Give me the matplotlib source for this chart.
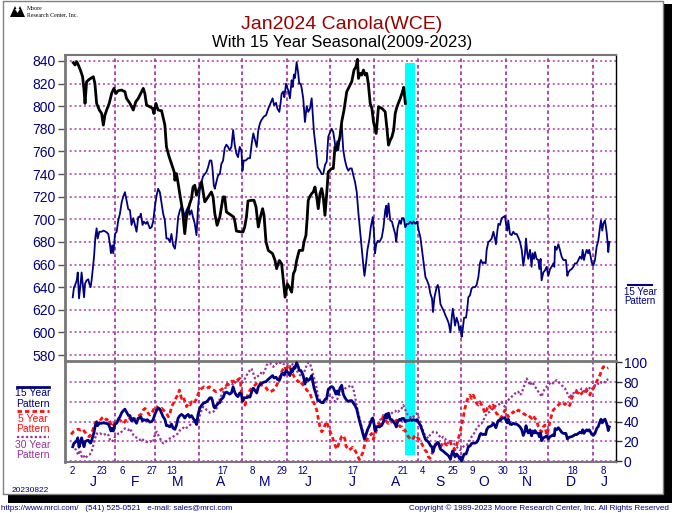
import datetime as dt
import matplotlib
matplotlib.use("Agg")
import matplotlib.pyplot as plt
from matplotlib.lines import Line2D
from matplotlib.patches import Rectangle, Polygon
from matplotlib.transforms import blended_transform_factory

plt.rcParams['font.family'] = ['Liberation Sans', 'DejaVu Sans']

# ---------------- data (x = days since 2023-01-01) ----------------
PRICE_DAYS = [1.9, 3.1, 4.3, 5.4, 7.0, 8.4, 9.4, 10.1, 11.2, 13.1, 15.9, 17.0, 18.2, 20.1, 21.7, 22.9, 24.0, 25.2,
              27.0, 28.7, 30.3, 31.7, 33.3, 35.6, 38.0, 39.1, 41.5, 43.8, 45.6, 47.3, 49.6, 50.8, 51.9, 53.1, 55.4,
              57.3, 58.2, 59.6, 61.2, 63.6, 65.9, 67.0, 68.9, 70.5, 72.4, 72.9, 74.0, 75.2, 76.3, 78.2, 79.8, 81.0,
              82.2, 83.3, 84.5, 85.6, 86.8, 88.0, 90.3, 91.5, 93.8, 96.1, 98.4, 99.6, 100.8, 102.4, 104.3, 106.6,
              107.7, 108.9, 112.4, 114.0, 114.7, 115.9, 119.4, 120.5, 121.7, 122.9, 124.0, 126.3, 128.2, 129.6,
              131.2, 132.4, 134.2, 135.2, 136.6, 138.2, 141.2, 142.9, 144.0, 145.9, 147.5, 148.7, 149.9, 151.5,
              152.9, 154.5, 155.7, 156.8, 158.0, 159.8, 162.2, 163.1, 164.5, 165.4, 166.1, 167.3, 168.5, 169.6,
              170.8, 172.0, 173.1, 174.3, 175.5, 176.6, 177.8, 179.0, 180.1, 182.5, 183.6, 184.8, 186.0, 187.1,
              188.3, 189.5, 191.1, 193.0, 195.3, 196.5, 198.1, 199.5, 200.5, 201.2, 202.3, 203.5, 204.7, 205.9,
              207.0, 208.2, 209.4, 210.6, 211.7, 213.6, 215.2, 217.6, 219.9, 221.1, 222.2, 223.4, 224.6, 225.8,
              226.9, 228.1, 230.4, 231.6, 232.8, 234.0]
PRICE = [838.5, 836.5, 839.4, 836.5, 831.4, 826.1, 814.3, 802.5, 821.7, 823.8, 826.1, 820.2, 802.5, 796.6, 793.6,
         783.3, 792.1, 796.6, 802.5, 811.3, 815.8, 811.3, 813.7, 814.3, 812.8, 806.9, 802.5, 796.6, 804.0, 806.9,
         812.8, 815.8, 811.3, 801.0, 799.5, 798.1, 793.6, 802.5, 796.6, 796.0, 783.3, 764.1, 755.2, 749.3, 741.9,
         734.5, 740.4, 731.6, 722.7, 708.0, 687.3, 702.0, 708.0, 713.9, 718.3, 728.6, 730.1, 721.3, 728.6, 733.1,
         715.4, 719.8, 724.2, 719.8, 705.0, 694.7, 702.0, 719.8, 719.8, 706.5, 703.5, 702.0, 699.1, 689.6, 688.8,
         688.8, 693.2, 702.0, 716.2, 716.8, 716.8, 710.9, 693.2, 700.6, 709.4, 703.5, 679.9, 672.5, 669.6, 663.6,
         656.3, 663.6, 660.7, 645.9, 631.1, 642.9, 640.0, 635.6, 651.8, 654.8, 663.6, 672.5, 672.5, 679.9, 685.8,
         702.0, 716.8, 720.4, 722.7, 724.2, 728.6, 719.8, 709.4, 722.7, 727.2, 719.8, 703.5, 722.7, 741.9, 744.9,
         744.9, 764.1, 761.1, 767.0, 772.9, 786.2, 796.6, 812.8, 818.7, 821.7, 832.0, 835.0, 841.5, 824.6, 829.1,
         827.6, 832.0, 827.6, 829.1, 818.7, 802.5, 798.1, 786.2, 775.9, 799.5, 798.1, 795.1, 780.3, 765.6, 770.0,
         772.9, 778.9, 793.6, 799.5, 806.9, 811.3, 816.7, 802.5]

P15_DAYS = [1.5, 2.4, 3.1, 4.3, 5.0, 5.9, 7.0, 7.7, 8.9, 9.4, 10.1, 11.2, 12.4, 13.1, 14.0, 14.7, 15.4, 16.4, 17.3,
            18.2, 18.9, 20.1, 21.7, 22.9, 24.7, 26.4, 27.5, 28.2, 29.1, 29.8, 30.5, 31.0, 32.2, 33.3, 34.5, 35.7,
            36.8, 38.0, 39.1, 40.3, 41.5, 42.6, 43.8, 45.0, 46.1, 47.3, 48.4, 49.1, 50.3, 51.2, 52.6, 53.6, 54.5,
            55.4, 56.6, 57.7, 58.9, 60.1, 61.2, 62.4, 63.6, 64.7, 65.9, 67.0, 68.2, 69.4, 70.5, 71.7, 72.9, 74.0,
            75.2, 76.4, 77.5, 78.7, 79.8, 81.0, 82.2, 83.3, 84.5, 85.7, 86.8, 88.0, 89.1, 90.3, 91.5, 92.6, 93.8,
            95.0, 96.1, 97.3, 98.4, 99.1, 100.1, 100.8, 101.9, 103.1, 104.3, 105.4, 106.6, 107.7, 108.9, 110.1,
            111.2, 112.4, 113.6, 114.7, 115.9, 117.0, 118.2, 119.4, 120.1, 121.0, 122.4, 124.0, 125.4, 126.6,
            127.7, 128.9, 130.1, 131.2, 132.4, 133.5, 135.2, 136.6, 138.2, 139.9, 141.2, 142.2, 143.6, 144.5,
            145.9, 146.8, 147.5, 148.7, 149.4, 150.6, 151.5, 152.2, 153.3, 154.5, 155.2, 156.1, 156.8, 158.0,
            159.1, 159.8, 160.8, 161.5, 162.6, 163.8, 165.0, 166.1, 167.3, 168.5, 169.2, 170.1, 171.3, 172.7,
            174.3, 175.5, 176.6, 177.8, 179.0, 180.1, 181.3, 182.5, 183.6, 184.8, 185.5, 186.4, 187.1, 188.3,
            189.5, 190.6, 191.8, 193.0, 194.1, 195.3, 196.5, 197.6, 198.8, 200.0, 201.2, 202.3, 203.5, 204.7,
            205.4, 206.5, 207.5, 208.9, 209.8, 211.2, 212.1, 212.8, 213.6, 214.7, 215.9, 217.5, 218.7, 219.9,
            220.6, 221.1, 222.2, 223.4, 224.6, 225.8, 226.9, 227.6, 228.5, 229.9, 230.9, 231.6, 232.8, 233.9,
            235.1, 236.3, 237.4, 238.6, 239.8, 240.9, 242.1, 243.3, 244.5, 245.6, 246.8, 248.0, 249.1, 250.3,
            251.5, 252.6, 253.3, 254.3, 255.7, 256.6, 257.3, 258.5, 259.6, 260.8, 262.0, 263.1, 264.3, 265.5,
            266.4, 267.1, 268.0, 268.7, 269.8, 271.0, 271.7, 272.6, 273.3, 274.0, 275.0, 276.4, 277.3, 278.0,
            279.2, 280.3, 281.5, 282.7, 283.8, 285.0, 286.1, 286.8, 288.0, 288.9, 290.1, 290.8, 292.0, 293.1,
            294.3, 295.5, 296.6, 297.3, 298.3, 299.0, 300.1, 301.3, 302.5, 303.6, 304.3, 305.2, 305.9, 307.1,
            308.3, 309.4, 310.6, 311.8, 312.9, 314.1, 315.3, 316.4, 317.6, 318.3, 319.2, 319.9, 321.1, 322.2,
            322.9, 323.9, 324.6, 325.7, 326.9, 327.6, 328.5, 329.2, 330.4, 331.6, 332.7, 333.9, 335.1, 336.2,
            337.4, 338.1, 338.6, 339.7, 340.9, 342.0, 343.2, 344.4, 346.2, 347.2, 347.9, 349.0, 350.2, 351.4,
            352.5, 353.7, 354.9, 356.0, 357.2, 357.9, 358.8, 359.5, 360.7, 361.8, 362.5, 363.5, 364.2, 365.3,
            366.5, 367.7, 368.8, 370.0, 370.7, 371.6, 372.3, 373.5, 374.6, 375.3, 375.8, 376.5]
P15_PRICE = [631, 640, 641.5, 646, 653, 630, 643, 653, 637, 631, 643, 646, 647, 643, 640, 646, 655, 667, 684, 692,
             683, 689, 689, 690, 689, 687, 678, 670, 677, 670, 678, 687, 689, 699, 705, 715, 720, 724, 717, 709, 708,
             695, 701, 695, 689, 702, 702, 705, 695, 698, 696, 698, 695, 692, 693, 698, 711, 721, 727, 724, 714, 705,
             699, 683, 683, 680, 687, 677, 674, 684, 702, 708, 711, 708, 702, 708, 711, 704, 708, 701, 696, 686, 711,
             726, 733, 738, 740, 742, 746, 752, 752, 746, 730, 727, 733, 739, 740, 749, 752, 763, 766, 764, 761, 764,
             779, 766, 758, 755, 764, 761, 743, 752, 752, 754, 754, 767, 776, 770, 764, 779, 785, 788, 791, 792, 798,
             803, 807, 801, 803, 798, 795, 803, 811, 813, 808, 820, 816, 814, 807, 823, 817, 828, 825, 839, 829, 820,
             820, 816, 807, 786, 800, 795, 798, 807, 794, 777, 764, 746, 743, 740, 740, 748, 751, 773, 777, 780, 777,
             767, 761, 769, 761, 776, 783, 761, 752, 746, 743, 745, 745, 739, 733, 724, 705, 690, 673, 658, 650, 661,
             673, 683, 693, 702, 687, 670, 678, 681, 680, 684, 693, 708, 712, 702, 714, 699, 698, 692, 687, 680, 692,
             699, 696, 701, 701, 693, 696, 696, 698, 696, 698, 696, 698, 690, 684, 673, 661, 649, 646, 642, 634, 630,
             618, 631, 639, 642, 639, 625, 622, 619, 615, 612, 608, 600, 613, 621, 613, 606, 613, 608, 602, 605, 596,
             602, 613, 613, 622, 631, 633, 639, 640, 640, 642, 649, 661, 664, 661, 662, 661, 673, 680, 681, 683, 689,
             683, 678, 690, 696, 695, 701, 702, 703, 696, 690, 699, 687, 686, 689, 687, 687, 684, 680, 673, 659, 670,
             683, 670, 665, 673, 658, 670, 665, 671, 665, 664, 656, 665, 646, 653, 655, 658, 650, 656, 658, 661, 658,
             676, 673, 678, 673, 667, 664, 664, 650, 653, 655, 656, 658, 661, 661, 664, 667, 665, 673, 664, 668, 673,
             670, 673, 667, 662, 659, 664, 676, 681, 693, 699, 690, 696, 699, 689, 680, 671, 680]

P5_DAYS = [0.3, 1.9, 3.8, 5.4, 7.1, 8.5, 10.1, 11.7, 13.1, 14.7, 15.9, 17.1, 18.2, 20.1, 21.7, 22.9, 24.1, 25.2, 26.4,
           27.6, 28.7, 29.9, 31.0, 32.2, 33.4, 34.5, 35.7, 36.9, 38.0, 39.2, 40.4, 41.5, 42.7, 43.9, 45.0, 46.2, 48.5,
           49.7, 50.8, 52.0, 53.2, 54.3, 55.5, 56.7, 57.8, 59.0, 60.2, 61.3, 62.5, 63.7, 64.8, 66.0, 67.2, 68.3, 69.5,
           70.6, 71.8, 73.0, 74.1, 75.3, 76.0, 76.9, 77.6, 78.8, 80.0, 81.1, 82.3, 83.5, 84.6, 85.8, 86.9, 88.1, 89.3,
           90.4, 91.6, 93.2, 95.1, 97.0, 98.6, 100.2, 101.6, 103.3, 104.9, 106.3, 107.9, 109.1, 110.2, 111.4, 112.6,
           113.7, 114.9, 116.1, 117.2, 118.4, 119.6, 120.7, 121.9, 123.1, 124.2, 125.4, 126.5, 127.7, 128.9, 130.0,
           131.2, 132.4, 133.5, 134.7, 135.9, 137.0, 138.2, 139.4, 140.5, 141.7, 142.9, 144.0, 145.2, 146.3, 147.5,
           148.7, 149.8, 151.0, 152.2, 153.3, 154.5, 155.7, 156.8, 158.0, 159.2, 160.3, 161.5, 162.6, 163.8, 165.0,
           166.1, 167.3, 168.5, 169.6, 170.8, 172.0, 173.1, 174.3, 175.5, 176.6, 177.8, 179.0, 180.1, 181.3, 182.5,
           183.6, 184.8, 186.0, 187.1, 188.3, 189.5, 190.6, 191.8, 192.5, 194.6, 197.2, 199.5, 201.8, 204.1, 205.8,
           208.1, 210.4, 211.6, 212.7, 213.9, 215.1, 216.2, 217.4, 218.6, 219.7, 220.9, 222.0, 223.2, 224.4, 225.5,
           226.7, 227.9, 229.0, 230.2, 231.4, 232.5, 233.7, 234.9, 236.0, 237.2, 238.4, 239.5, 240.7, 241.8, 243.0,
           244.2, 245.3, 246.5, 247.7, 248.8, 250.0, 251.2, 252.3, 253.5, 254.7, 255.8, 257.0, 258.2, 259.3, 260.5,
           261.7, 262.8, 264.0, 265.1, 266.3, 267.5, 268.6, 269.8, 271.0, 272.1, 273.3, 274.5, 275.6, 276.8, 278.0,
           279.1, 280.3, 281.4, 282.6, 283.8, 284.9, 286.1, 287.3, 288.4, 289.6, 290.8, 291.9, 293.1, 294.3, 295.4,
           296.6, 297.7, 298.9, 300.1, 301.2, 302.4, 303.6, 304.7, 305.9, 307.1, 308.2, 309.4, 310.6, 311.7, 312.9,
           314.0, 315.2, 316.4, 317.5, 318.7, 319.9, 321.0, 322.2, 323.4, 324.5, 325.7, 326.9, 328.0, 329.2, 330.4,
           331.5, 332.7, 333.8, 335.0, 336.2, 337.3, 338.5, 339.7, 340.8, 342.0, 343.2, 344.3, 345.5, 346.7, 347.8,
           349.0, 350.1, 351.3, 352.5, 353.6, 354.8, 356.0, 357.1, 358.3, 359.5, 360.6, 361.8, 363.0, 364.1, 365.3,
           366.5, 367.6, 368.8, 370.0, 371.1, 372.3, 373.5, 374.6, 375.8]
P5 = [27.0, 29.7, 31.4, 32.4, 31.4, 32.4, 29.1, 26.3, 24.7, 28.0, 33.1, 38.2, 39.9, 39.9, 43.2, 44.9, 43.2, 41.5, 43.2,
      39.9, 34.8, 36.5, 38.2, 39.9, 41.5, 41.5, 39.9, 38.2, 39.9, 43.2, 44.9, 43.2, 39.9, 41.5, 43.2, 44.9, 46.6, 48.3,
      51.7, 53.4, 51.7, 48.3, 46.6, 48.3, 51.7, 55.1, 55.1, 53.4, 51.7, 53.4, 51.7, 50.0, 48.3, 44.9, 48.3, 55.1, 58.4,
      61.8, 65.2, 66.9, 72.0, 66.9, 63.5, 65.2, 60.1, 55.1, 58.4, 56.8, 60.1, 58.4, 60.1, 63.5, 68.6, 72.0, 73.6, 75.3,
      73.6, 75.3, 73.6, 72.0, 70.3, 70.9, 72.0, 73.6, 75.3, 77.0, 79.7, 80.4, 81.1, 80.4, 82.1, 81.1, 83.1, 83.8, 68.6,
      63.5, 56.8, 63.5, 68.6, 72.0, 73.6, 75.3, 77.0, 78.7, 80.4, 78.7, 77.0, 76.3, 75.3, 73.6, 70.9, 70.3, 70.9, 72.0,
      73.6, 77.0, 80.4, 85.5, 90.5, 93.9, 92.2, 93.9, 97.3, 94.6, 90.5, 87.2, 83.8, 82.1, 80.4, 82.1, 78.7, 77.0, 75.3,
      72.0, 70.3, 68.6, 63.5, 60.1, 56.8, 51.7, 43.2, 34.8, 29.7, 31.4, 36.5, 39.9, 34.8, 30.0, 26.3, 21.3, 16.2, 12.0,
      16.0, 21.0, 25.0, 26.0, 22.0, 15.0, 11.0, 14.0, 9.0, 1.5, 8.0, 18.0, 24.0, 28.0, 22.0, 27.0, 31.4, 34.8, 38.2,
      41.5, 44.9, 43.2, 39.9, 38.2, 41.5, 39.9, 38.2, 39.9, 41.5, 38.2, 34.8, 34.8, 31.4, 31.4, 28.0, 24.7, 23.0, 21.3,
      23.0, 26.3, 24.7, 23.0, 21.3, 17.9, 14.5, 11.1, 9.5, 4.4, 2.7, 6.1, 11.1, 16.2, 19.6, 17.9, 12.8, 16.2, 19.6,
      17.9, 16.2, 17.9, 19.6, 16.2, 14.5, 11.1, 16.2, 23.0, 28.0, 36.5, 44.9, 53.4, 60.1, 65.2, 66.9, 63.5, 66.9, 63.5,
      58.4, 56.8, 60.0, 56.8, 53.4, 48.3, 51.7, 56.8, 55.1, 53.4, 56.8, 51.7, 48.3, 46.6, 43.2, 44.9, 48.3, 51.7, 48.3,
      44.9, 46.6, 48.3, 50.0, 48.3, 50.0, 51.7, 50.7, 50.0, 48.3, 47.3, 45.9, 46.6, 44.9, 43.2, 45.9, 43.2, 41.5, 34.8,
      31.4, 29.7, 34.8, 36.5, 26.3, 31.4, 39.9, 46.6, 51.7, 53.4, 55.1, 56.8, 58.4, 58.4, 56.8, 58.4, 56.8, 55.1, 56.8,
      63.5, 66.9, 68.6, 70.3, 68.6, 66.9, 68.6, 70.3, 68.6, 72.0, 70.3, 66.9, 72.0, 73.6, 77.0, 80.4, 83.8, 87.2, 92.2,
      95.6, 95.6, 93.9, 94.6]

P30_DAYS = [3.1, 4.3, 5.4, 6.6, 7.8, 8.9, 10.1, 11.2, 12.4, 13.6, 14.7, 15.9, 17.1, 18.2, 19.4, 20.6, 22.9, 25.2, 26.4,
            27.6, 28.7, 29.9, 31.0, 32.2, 33.4, 34.5, 36.9, 38.0, 39.2, 40.4, 41.5, 42.7, 43.9, 45.0, 46.2, 48.5, 49.7,
            50.8, 52.7, 54.3, 55.5, 56.7, 57.8, 59.0, 60.2, 61.3, 62.5, 63.7, 64.8, 66.0, 67.2, 68.3, 69.5, 70.6, 71.8,
            73.0, 74.1, 75.3, 76.5, 77.6, 78.8, 80.0, 81.1, 82.3, 83.5, 84.6, 85.8, 86.9, 88.1, 89.3, 90.4, 91.6, 92.8,
            95.0, 97.5, 99.8, 102.1, 104.4, 107.9, 110.2, 112.6, 113.7, 116.1, 118.4, 120.7, 123.1, 125.4, 126.5,
            127.7, 128.9, 130.0, 132.4, 133.5, 134.7, 135.9, 137.0, 138.2, 139.4, 140.5, 141.7, 142.9, 144.0, 145.2,
            146.3, 147.5, 148.7, 149.8, 151.0, 152.2, 153.3, 154.5, 155.7, 156.8, 158.0, 159.2, 160.3, 161.5, 162.6,
            163.8, 165.0, 166.1, 167.3, 168.5, 169.6, 170.8, 172.0, 173.1, 174.3, 175.5, 176.6, 179.0, 180.1, 181.3,
            182.5, 183.6, 184.8, 186.0, 188.3, 190.6, 191.8, 194.1, 196.4, 197.6, 198.8, 199.9, 201.1, 202.3, 203.4,
            204.6, 205.8, 206.9, 208.1, 209.2, 210.4, 211.6, 212.7, 213.9, 215.1, 216.2, 217.4, 218.6, 219.7, 220.9,
            222.0, 223.2, 224.4, 225.5, 226.7, 227.9, 229.0, 230.2, 231.4, 232.5, 233.7, 234.9, 236.0, 237.2, 238.4,
            239.5, 240.7, 241.8, 243.0, 244.2, 245.3, 246.5, 247.7, 248.8, 250.0, 251.2, 252.3, 253.5, 254.7, 255.8,
            257.0, 258.2, 259.3, 260.5, 261.7, 262.8, 264.0, 265.1, 266.3, 267.5, 268.6, 269.8, 271.0, 272.1, 273.3,
            274.5, 275.6, 276.8, 278.0, 279.1, 280.3, 281.4, 282.6, 283.8, 284.9, 286.1, 287.3, 288.4, 289.6, 290.8,
            293.1, 295.4, 296.6, 297.7, 298.9, 300.1, 301.2, 302.4, 303.6, 304.7, 305.9, 307.1, 308.2, 309.4, 310.6,
            311.7, 312.9, 314.0, 315.2, 316.4, 317.5, 318.7, 319.4, 320.6, 321.5, 322.2, 323.4, 324.5, 325.7, 326.9,
            328.0, 329.2, 330.4, 331.5, 332.7, 333.8, 335.0, 336.2, 337.3, 338.5, 339.7, 340.8, 342.0, 343.2, 344.3,
            345.5, 346.7, 347.8, 349.0, 350.1, 351.3, 352.5, 353.6, 354.8, 356.0, 357.1, 358.3, 359.5, 360.6, 361.8,
            363.0, 364.1, 365.3, 366.5, 367.6, 368.8, 370.0, 371.1, 372.3, 373.5, 374.6, 375.8]
P30 = [12.8, 9.5, 6.1, 11.1, 4.4, 6.1, 2.7, 4.4, 6.1, 6.8, 9.5, 16.2, 23.0, 28.0, 27.0, 28.0, 26.3, 28.0, 26.3, 21.3,
       19.6, 21.3, 24.7, 26.3, 28.0, 28.0, 31.4, 33.1, 32.4, 31.4, 33.1, 29.7, 26.3, 24.7, 23.6, 21.3, 23.0, 21.3, 19.6,
       18.9, 20.3, 18.9, 19.6, 28.0, 29.7, 26.3, 23.0, 19.6, 17.9, 18.9, 20.3, 21.3, 23.0, 23.6, 24.7, 26.3, 27.0, 28.0,
       31.4, 32.4, 33.8, 32.4, 33.8, 34.8, 36.5, 38.2, 39.9, 41.5, 36.5, 40.5, 46.6, 51.7, 55.1, 52.0, 49.0, 50.0, 53.4,
       63.5, 73.6, 77.0, 78.7, 77.0, 82.1, 80.4, 80.4, 87.2, 92.2, 93.9, 88.8, 83.8, 85.5, 87.2, 90.5, 88.8, 92.2, 97.3,
       99.0, 99.5, 97.3, 95.6, 97.3, 99.0, 98.0, 99.5, 100.0, 99.5, 93.9, 95.6, 98.0, 95.6, 99.0, 97.3, 95.6, 92.2,
       88.8, 87.2, 85.5, 88.8, 92.2, 97.3, 100.0, 99.0, 93.9, 87.2, 80.4, 73.6, 65.2, 61.8, 60.1, 60.1, 61.8, 65.2, 66.9,
       65.2, 63.5, 60.1, 61.8, 68.0, 71.0, 73.6, 75.3, 77.0, 73.6, 65.2, 56.8, 48.3, 41.5, 34.8, 28.0, 24.7, 28.0, 33.1,
       38.2, 43.2, 39.9, 36.5, 34.8, 38.2, 41.5, 43.2, 46.6, 44.9, 46.6, 48.3, 46.6, 48.3, 50.0, 50.0, 51.7, 50.0, 51.7,
       53.4, 56.8, 53.4, 48.3, 46.6, 44.9, 43.2, 44.9, 46.6, 48.3, 44.9, 39.9, 34.8, 29.7, 26.3, 24.7, 23.0, 26.3, 28.0,
       29.7, 29.7, 29.1, 26.3, 24.7, 23.0, 24.7, 23.0, 19.6, 17.9, 19.6, 20.3, 18.9, 16.2, 14.5, 12.8, 11.1, 12.8, 14.5,
       16.2, 16.2, 17.9, 21.3, 24.7, 26.3, 29.7, 33.1, 34.8, 37.5, 38.2, 41.0, 45.0, 48.3, 50.0, 53.4, 55.1, 56.8, 56.8,
       58.4, 60.1, 56.8, 55.1, 60.1, 61.8, 63.5, 65.2, 66.9, 68.6, 68.6, 70.3, 66.9, 68.6, 73.6, 78.7, 83.8, 82.1, 78.7,
       80.4, 77.0, 78.7, 75.3, 73.6, 70.3, 68.6, 65.2, 70.3, 73.6, 75.3, 77.0, 78.7, 80.4, 78.7, 80.4, 82.1, 80.4, 78.7,
       77.0, 75.3, 73.6, 70.3, 66.9, 63.5, 68.6, 68.6, 70.3, 72.0, 68.6, 70.3, 73.6, 72.0, 70.3, 73.6, 75.3, 73.6, 72.0,
       75.3, 77.0, 76.3, 78.7, 77.7, 80.4, 81.1, 79.7, 82.1, 83.1]

PRICE_TICKS = [580, 600, 620, 640, 660, 680, 700, 720, 740, 760, 780, 800, 820, 840]
PCT_TICKS = [0, 20, 40, 60, 80, 100]
DAY_TICK_DATES = ["2023-01-02", "2023-01-23", "2023-02-06", "2023-02-27", "2023-03-13", "2023-04-17",
                  "2023-05-08", "2023-05-29", "2023-06-12", "2023-07-17", "2023-08-21", "2023-09-04",
                  "2023-09-25", "2023-10-09", "2023-10-30", "2023-11-13", "2023-12-18", "2024-01-08"]
MONTH_LETTERS = ["J", "F", "M", "A", "M", "J", "J", "A", "S", "O", "N", "D", "J"]
HIGHLIGHT = ("2023-08-22", "2023-08-29")

# pattern scale: price of 15 year pattern at index 0 and 100
PAT_LO, PAT_HI = 595.7, 839.4

# ---------------- helpers ----------------
BASE = dt.date(2023, 1, 1)
def dnum(s):
    return (dt.date.fromisoformat(s) - BASE).days

W, H = 675, 513
def fx(x): return x / W
def fy(y): return 1 - y / H

NAVY = '#000080'
GRID = '#A83CA8'
RED = '#FF1010'
PURPLE = '#993399'
CYAN = '#00FFFF'

fig = plt.figure(figsize=(6.75, 5.13), dpi=100)

# outer frame + shadow
fig.add_artist(Rectangle((fx(8), fy(503)), fx(672) - fx(8), fy(494) - fy(503), transform=fig.transFigure,
                         facecolor='black', edgecolor='none', zorder=0))
fig.add_artist(Rectangle((fx(663), fy(503)), fx(672) - fx(663), fy(4) - fy(503), transform=fig.transFigure,
                         facecolor='black', edgecolor='none', zorder=0))
fig.add_artist(Rectangle((fx(3), fy(494)), fx(663) - fx(3), fy(1) - fy(494), transform=fig.transFigure,
                         facecolor='none', edgecolor='#808080', lw=1, zorder=0))

XL = (-3.9, 381.2)
ax = fig.add_axes([fx(65), fy(361), fx(616) - fx(65), fy(55) - fy(361)])
axb = fig.add_axes([fx(65), fy(462), fx(616) - fx(65), fy(361) - fy(462)])
for a in (ax, axb):
    a.set_xlim(*XL)
    a.set_facecolor('none')

ax.set_ylim(574.7, 845.3)
axb.set_ylim(-1.0, 101.5)

# month start grid lines
month_starts = [dnum(f"2023-{m:02d}-01") for m in range(2, 13)] + [dnum("2024-01-01")]
for a in (ax, axb):
    for m in month_starts:
        a.axvline(m, color=GRID, lw=1.3, dashes=(2.0, 1.6), zorder=1)
for v in PRICE_TICKS:
    ax.axhline(v, color=GRID, lw=1.1, dashes=(1.3, 1.8), zorder=1)
for v in PCT_TICKS[:-1]:
    axb.axhline(v, color=GRID, lw=1.1, dashes=(1.3, 1.8), zorder=1)

# highlight band
h0, h1 = dnum(HIGHLIGHT[0]) + 0.4, dnum(HIGHLIGHT[1]) + 0.4
ax.axvspan(h0, h1, ymin=0, ymax=(838.5 - 574.7) / (845.3 - 574.7), color=CYAN, lw=0, zorder=2)
axb.axvspan(h0, h1, ymin=(6 + 1.0) / 102.5, ymax=1, color=CYAN, lw=0, zorder=2)

# top panel lines
ax.plot(P15_DAYS, P15_PRICE, color=NAVY, lw=1.3, zorder=3)
ax.plot(PRICE_DAYS, PRICE, color='black', lw=2.0, zorder=4)

# lower panel
axb.plot(P30_DAYS, P30, color=PURPLE, lw=1.6, dashes=(1.0, 1.0), zorder=3)
axb.plot(P5_DAYS, P5, color=RED, lw=2.0, dashes=(1.6, 1.1), zorder=4)
axn = axb.twinx()
axn.set_xlim(*XL)
axn.set_ylim(PAT_LO + (-1.0) * (PAT_HI - PAT_LO) / 100, PAT_LO + 101.5 * (PAT_HI - PAT_LO) / 100)
axn.plot(P15_DAYS, P15_PRICE, color=NAVY, lw=2.0, zorder=5)
axn.axis('off')

# spines / ticks top
for s in ax.spines.values():
    s.set_visible(False)
ax.spines['left'].set_visible(True)
ax.spines['left'].set_color('#777777')
ax.spines['left'].set_linewidth(2)
ax.spines['top'].set_visible(True)
ax.spines['top'].set_color('#777777')
ax.spines['top'].set_linewidth(1.5)
ax.spines['right'].set_visible(True)
ax.spines['right'].set_color('black')
ax.spines['right'].set_linewidth(1)
ax.set_yticks(PRICE_TICKS)
ax.set_yticklabels([str(v) for v in PRICE_TICKS])
ax.tick_params(axis='y', direction='out', length=5, width=1, color='#555555', pad=1.5,
               labelsize=10, labelcolor=NAVY)
ax.set_xticks([])

# spines / ticks bottom
for s in axb.spines.values():
    s.set_visible(False)
axb.spines['top'].set_visible(True)
axb.spines['top'].set_color('#777777')
axb.spines['top'].set_linewidth(2)
axb.spines['left'].set_visible(True)
axb.spines['left'].set_color('#777777')
axb.spines['left'].set_linewidth(2)
axb.spines['bottom'].set_visible(True)
axb.spines['bottom'].set_color('#777777')
axb.spines['bottom'].set_linewidth(1.5)
axb.spines['right'].set_visible(True)
axb.spines['right'].set_color('black')
axb.spines['right'].set_linewidth(1)
axb.yaxis.tick_right()
axb.set_yticks(PCT_TICKS)
axb.set_yticklabels([str(v) for v in PCT_TICKS])
axb.tick_params(axis='y', direction='out', length=4, width=1, color='#333333', pad=1.5,
                labelsize=10, labelcolor=NAVY)
tick_days = [dnum(s) for s in DAY_TICK_DATES]
axb.set_xticks(tick_days)
axb.set_xticklabels([str(dt.date.fromisoformat(s).day) for s in DAY_TICK_DATES])
axb.tick_params(axis='x', length=0, pad=3, labelsize=7, labelcolor=NAVY)

# month letters
month_edges = [dnum("2023-01-01")] + month_starts + [dnum("2024-02-01")]
tr = blended_transform_factory(axb.transData, axb.transAxes)
for i, lab in enumerate(MONTH_LETTERS):
    a0 = max(month_edges[i], XL[0])
    a1 = min(month_edges[i + 1], XL[1])
    axb.text((a0 + a1) / 2, -0.2, lab, transform=tr, ha='center', va='center', fontsize=10, color=NAVY)

# titles
fig.text(fx(342), fy(29), "Jan2024 Canola(WCE)", ha='center', va='baseline', fontsize=14, color='#990000')
fig.text(fx(342), fy(47), "With 15 Year Seasonal(2009-2023)", ha='center', va='baseline', fontsize=12,
         color='black')

# logo
for pts in ([(10, 17), (15, 6), (20, 17)], [(15, 17), (20, 6), (25, 17)]):
    fig.add_artist(Polygon([(fx(x), fy(y)) for x, y in pts], closed=True, transform=fig.transFigure,
                           facecolor='black', edgecolor='none'))
fig.add_artist(Polygon([(fx(x), fy(y)) for x, y in [(15, 9), (17.5, 13), (20, 9)]], closed=True,
                       transform=fig.transFigure, facecolor='white', edgecolor='none'))
fig.text(fx(27), fy(10.5), "Moore", fontsize=4.2, family='Liberation Serif', va='baseline')
fig.text(fx(27), fy(16), "Research Center, Inc.", fontsize=4.2, family='Liberation Serif', va='baseline')

# left legend
def legline(y, **kw):
    fig.add_artist(Line2D([fx(17), fx(49)], [fy(y), fy(y)], transform=fig.transFigure, **kw))
legline(386.5, color=NAVY, lw=2)
legline(411, color=RED, lw=2, dashes=(1.6, 1.1))
legline(437, color=PURPLE, lw=1.6, dashes=(1.0, 1.0))
for y, txt, c in [(393.5, "15 Year", NAVY), (404, "Pattern", NAVY), (419.5, "5 Year", RED), (429, "Pattern", RED),
                  (445.5, "30 Year", PURPLE), (455, "Pattern", PURPLE)]:
    fig.text(fx(33), fy(y), txt, ha='center', va='center', fontsize=7.5, color=c)

# right legend
fig.add_artist(Line2D([fx(628), fx(652)], [fy(284.5), fy(284.5)], transform=fig.transFigure, color=NAVY, lw=1.5))
fig.text(fx(640), fy(292), "15 Year", ha='center', va='center', fontsize=7, color=NAVY)
fig.text(fx(640), fy(301.5), "Pattern", ha='center', va='center', fontsize=7, color=NAVY)

# date and footer
fig.text(fx(12), fy(490), "20230822", ha='left', va='center', fontsize=6, color=NAVY)
fig.text(fx(1), fy(508), "https://www.mrci.com/   (541) 525-0521   e-mail: sales@mrci.com", ha='left',
         va='center', fontsize=5.8, color=NAVY)
fig.text(fx(669), fy(508), "Copyright \u00a9 1989-2023 Moore Research Center, Inc. All Rights Reserved",
         ha='right', va='center', fontsize=5.8, color=NAVY)

fig.savefig("out.png", dpi=100)
